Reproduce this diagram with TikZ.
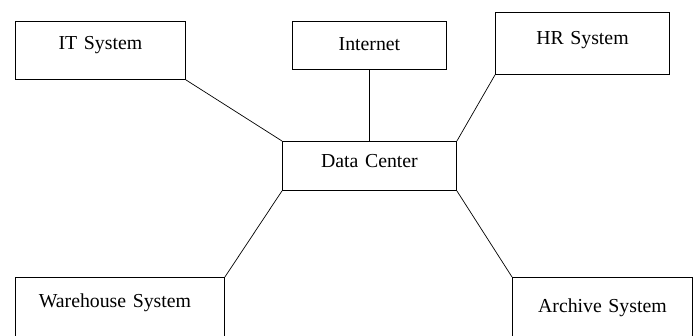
\documentclass[tikz,border=0pt]{standalone}
\usepackage{fontspec}
\setmainfont{Liberation Serif}
\begin{document}
\begin{tikzpicture}[x=1pt, y=-1pt,
  sysbox/.style={draw, line width=0.9pt, rectangle, inner sep=0pt, anchor=north west,
    align=center, font=\fontsize{19.8}{24}\selectfont},
  link/.style={line width=0.7pt}]
  \useasboundingbox (0,0) rectangle (695,336);
  \clip (0,0) rectangle (695,336);
  % systems around the hub; text height/depth set the box height and baseline
  \node[sysbox, text width=170pt, text height=28pt, text depth=30pt] (it) at (15,21) {IT System};
  \node[sysbox, text width=154pt, text height=29pt, text depth=19pt] (net) at (292,21) {Internet};
  \node[sysbox, text width=174pt, text height=32pt, text depth=30pt] (hr) at (495,12) {HR System};
  \node[sysbox, text width=174pt, text height=26pt, text depth=23pt] (dc) at (282,141) {Data Center};
  \node[sysbox, text width=209pt, text height=30pt, text depth=43pt] (wh) at (15,277) {\hspace*{-10pt}Warehouse System};
  \node[sysbox, text width=180pt, text height=35pt, text depth=37pt] (ar) at (512,277) {Archive System};
  % links to the data center
  \draw[link] (it.south east) -- (dc.north west);
  \draw[link] (net.south) -- (dc.north);
  \draw[link] (hr.south west) -- (dc.north east);
  \draw[link] (wh.north east) -- (dc.south west);
  \draw[link] (ar.north west) -- (dc.south east);
\end{tikzpicture}
\end{document}
